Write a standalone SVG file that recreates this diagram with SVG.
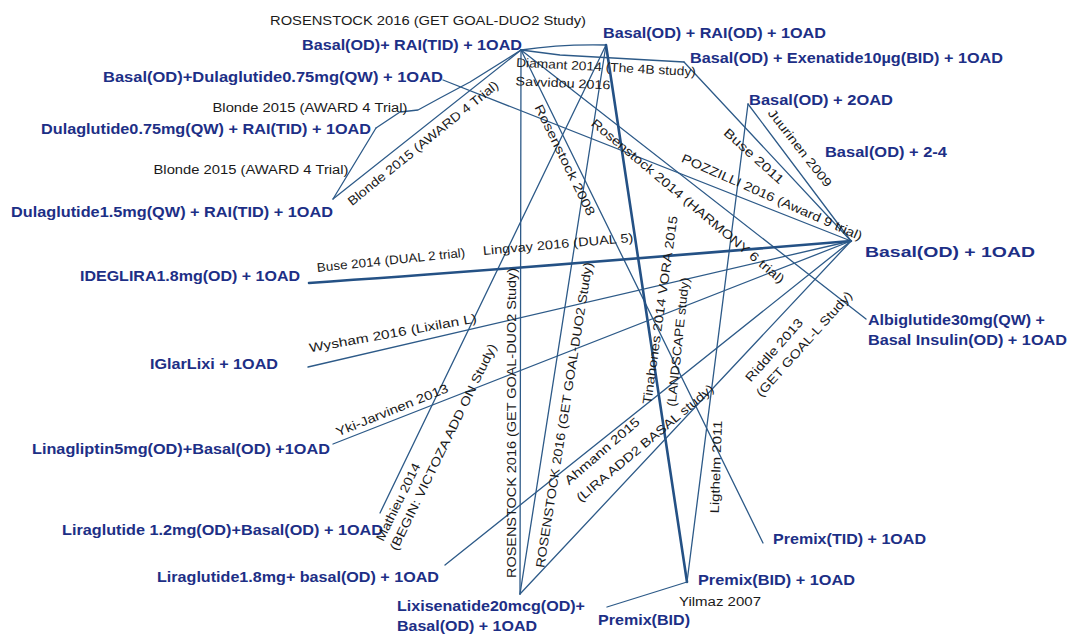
<svg xmlns="http://www.w3.org/2000/svg" width="1067" height="634" viewBox="0 0 1067 634">
<style>
.n{font-family:"Liberation Sans",Arial,sans-serif;font-weight:bold;font-size:15px;fill:#1d2f86}
.s{font-family:"Liberation Sans",Arial,sans-serif;font-size:12.5px;fill:#1a1a1a}
.e{stroke:#2d5a88;stroke-width:1.3;fill:none;stroke-linecap:round;stroke-linejoin:round}
.t{stroke-width:2.6;stroke:#245185}
</style>
<rect width="1067" height="634" fill="#ffffff"/>
<g id="connectors">
<path class="e" d="M521,50 Q560,44 606,45"/>
<path class="e" d="M521,50 L560,55 L684,62"/>
<path class="e" d="M521,50 L520,594"/>
<path class="e" d="M376,128 L400,112 L418,110 L440,98 L470,82 L521,50"/>
<path class="e" d="M333,199 L376,128"/>
<path class="e" d="M333,199 L521,50"/>
<path class="e" d="M521,50 L763,543"/>
<path class="e" d="M521,50 L866,319"/>
<path class="e" d="M606,45 L520,594"/>
<path class="e" d="M606,45 L380,513"/>
<path class="e t" d="M606,45 L687,582"/>
<path class="e" d="M443,80 L851,241"/>
<path class="e" d="M684,62 L851,241"/>
<path class="e" d="M748,104 L851,241"/>
<path class="e" d="M748,104 L687,582"/>
<path class="e t" d="M309,283 Q500,270 851,241"/>
<path class="e" d="M308,367 L851,241"/>
<path class="e" d="M333,444 L851,241"/>
<path class="e" d="M445,565 L851,241"/>
<path class="e" d="M520,594 L851,241"/>
<path class="e" d="M607,607 L687,582"/>
</g>
<g id="node-basal-rai-tid"><text class="n" x="302" y="50" textLength="220" lengthAdjust="spacingAndGlyphs">Basal(OD)+ RAI(TID)  + 1OAD</text></g>
<g id="node-basal-rai-od"><text class="n" x="603" y="38" textLength="223" lengthAdjust="spacingAndGlyphs">Basal(OD) + RAI(OD) + 1OAD</text></g>
<g id="node-basal-exenatide"><text class="n" x="690" y="63" textLength="313" lengthAdjust="spacingAndGlyphs">Basal(OD) + Exenatide10µg(BID) + 1OAD</text></g>
<g id="node-basal-dula075"><text class="n" x="103" y="82" textLength="340" lengthAdjust="spacingAndGlyphs">Basal(OD)+Dulaglutide0.75mg(QW) + 1OAD</text></g>
<g id="node-basal-2oad"><text class="n" x="749" y="105" textLength="144" lengthAdjust="spacingAndGlyphs">Basal(OD) + 2OAD</text></g>
<g id="node-dula075-rai"><text class="n" x="41" y="134" textLength="330" lengthAdjust="spacingAndGlyphs">Dulaglutide0.75mg(QW) + RAI(TID)  + 1OAD</text></g>
<g id="node-basal-2-4"><text class="n" x="825" y="157" textLength="122" lengthAdjust="spacingAndGlyphs">Basal(OD) + 2-4</text></g>
<g id="node-dula15-rai"><text class="n" x="11" y="217" textLength="322" lengthAdjust="spacingAndGlyphs">Dulaglutide1.5mg(QW) + RAI(TID)  + 1OAD</text></g>
<g id="node-basal-1oad"><text class="n" x="865" y="257" textLength="170" lengthAdjust="spacingAndGlyphs">Basal(OD) + 1OAD</text></g>
<g id="node-ideglira"><text class="n" x="80" y="281" textLength="220" lengthAdjust="spacingAndGlyphs">IDEGLIRA1.8mg(OD) + 1OAD</text></g>
<g id="node-albiglutide"><text class="n" x="868" y="325" textLength="177" lengthAdjust="spacingAndGlyphs">Albiglutide30mg(QW) +</text><text class="n" x="868" y="345" textLength="199" lengthAdjust="spacingAndGlyphs">Basal Insulin(OD)  + 1OAD</text></g>
<g id="node-iglarlixi"><text class="n" x="150" y="369" textLength="128" lengthAdjust="spacingAndGlyphs">IGlarLixi  + 1OAD</text></g>
<g id="node-linagliptin"><text class="n" x="32" y="454" textLength="298" lengthAdjust="spacingAndGlyphs">Linagliptin5mg(OD)+Basal(OD) +1OAD</text></g>
<g id="node-premix-tid"><text class="n" x="773" y="544" textLength="153" lengthAdjust="spacingAndGlyphs">Premix(TID) + 1OAD</text></g>
<g id="node-lira12"><text class="n" x="62" y="535" textLength="321" lengthAdjust="spacingAndGlyphs">Liraglutide 1.2mg(OD)+Basal(OD) + 1OAD</text></g>
<g id="node-lira18"><text class="n" x="157" y="582" textLength="282" lengthAdjust="spacingAndGlyphs">Liraglutide1.8mg+ basal(OD) + 1OAD</text></g>
<g id="node-premix-bid-1oad"><text class="n" x="698" y="585" textLength="157" lengthAdjust="spacingAndGlyphs">Premix(BID) + 1OAD</text></g>
<g id="node-lixisenatide"><text class="n" x="397" y="611" textLength="188" lengthAdjust="spacingAndGlyphs">Lixisenatide20mcg(OD)+</text><text class="n" x="397" y="631" textLength="140" lengthAdjust="spacingAndGlyphs">Basal(OD) + 1OAD</text></g>
<g id="node-premix-bid"><text class="n" x="598" y="625" textLength="92" lengthAdjust="spacingAndGlyphs">Premix(BID)</text></g>
<g id="study-labels">
<text class="s" text-anchor="middle" dy="0.35em" transform="translate(428,21)" textLength="316" lengthAdjust="spacingAndGlyphs">ROSENSTOCK 2016 (GET GOAL-DUO2 Study)</text>
<text class="s" text-anchor="middle" dy="0.35em" transform="translate(606,67) rotate(3)" textLength="180" lengthAdjust="spacingAndGlyphs">Diamant 2014 (The 4B study)</text>
<text class="s" text-anchor="middle" dy="0.35em" transform="translate(563,83) rotate(2.5)" textLength="95" lengthAdjust="spacingAndGlyphs">Savvidou 2016</text>
<text class="s" text-anchor="middle" dy="0.35em" transform="translate(310,108)" textLength="195" lengthAdjust="spacingAndGlyphs">Blonde 2015 (AWARD 4 Trial)</text>
<text class="s" text-anchor="middle" dy="0.35em" transform="translate(251,170)" textLength="195" lengthAdjust="spacingAndGlyphs">Blonde 2015 (AWARD 4 Trial)</text>
<text class="s" text-anchor="middle" dy="0.35em" transform="translate(423,143) rotate(-39)" textLength="190" lengthAdjust="spacingAndGlyphs">Blonde 2015 (AWARD 4 Trial)</text>
<text class="s" text-anchor="middle" dy="0.35em" transform="translate(565,160) rotate(64)" textLength="122" lengthAdjust="spacingAndGlyphs">Rosenstock 2008</text>
<text class="s" text-anchor="middle" dy="0.35em" transform="translate(688,201) rotate(40)" textLength="248" lengthAdjust="spacingAndGlyphs">Rosenstock 2014 (HARMONY 6 trial)</text>
<text class="s" text-anchor="middle" dy="0.35em" transform="translate(772,197) rotate(23.8)" textLength="196" lengthAdjust="spacingAndGlyphs">POZZILLI 2016 (Award 9 trial)</text>
<text class="s" text-anchor="middle" dy="0.35em" transform="translate(754,156) rotate(42)" textLength="76" lengthAdjust="spacingAndGlyphs">Buse 2011</text>
<text class="s" text-anchor="middle" dy="0.35em" transform="translate(800,148) rotate(52)" textLength="95" lengthAdjust="spacingAndGlyphs">Juurinen 2009</text>
<text class="s" text-anchor="middle" dy="0.35em" transform="translate(391,260) rotate(-5.8)" textLength="149" lengthAdjust="spacingAndGlyphs">Buse 2014 (DUAL 2 trial)</text>
<text class="s" text-anchor="middle" dy="0.35em" transform="translate(558,244) rotate(-5)" textLength="151" lengthAdjust="spacingAndGlyphs">Lingvay 2016 (DUAL 5)</text>
<text class="s" text-anchor="middle" dy="0.35em" transform="translate(393,333) rotate(-10.2)" textLength="170" lengthAdjust="spacingAndGlyphs">Wysham 2016  (Lixilan L)</text>
<text class="s" text-anchor="middle" dy="0.35em" transform="translate(392,410) rotate(-22)" textLength="120" lengthAdjust="spacingAndGlyphs">Yki-Jarvinen 2013</text>
<text class="s" text-anchor="middle" dy="0.35em" transform="translate(398,502) rotate(-64)" textLength="85" lengthAdjust="spacingAndGlyphs">Mathieu 2014</text>
<text class="s" text-anchor="middle" dy="0.35em" transform="translate(443,447) rotate(-64)" textLength="228" lengthAdjust="spacingAndGlyphs">(BEGIN: VICTOZA ADD ON Study)</text>
<text class="s" text-anchor="middle" dy="0.35em" transform="translate(512,423) rotate(-90)" textLength="310" lengthAdjust="spacingAndGlyphs">ROSENSTOCK 2016 (GET GOAL-DUO2 Study)</text>
<text class="s" text-anchor="middle" dy="0.35em" transform="translate(564,415) rotate(-81)" textLength="309" lengthAdjust="spacingAndGlyphs">ROSENSTOCK 2016 (GET GOAL-DUO2 Study)</text>
<text class="s" text-anchor="middle" dy="0.35em" transform="translate(602,451) rotate(-41)" textLength="95" lengthAdjust="spacingAndGlyphs">Ahmann 2015</text>
<text class="s" text-anchor="middle" dy="0.35em" transform="translate(645,443) rotate(-40)" textLength="175" lengthAdjust="spacingAndGlyphs">(LIRA ADD2 BASAL study)</text>
<text class="s" text-anchor="middle" dy="0.35em" transform="translate(774,350) rotate(-48.5)" textLength="80" lengthAdjust="spacingAndGlyphs">Riddle 2013</text>
<text class="s" text-anchor="middle" dy="0.35em" transform="translate(804,344) rotate(-48)" textLength="137" lengthAdjust="spacingAndGlyphs">(GET GOAL-L Study)</text>
<text class="s" text-anchor="middle" dy="0.35em" transform="translate(660,310) rotate(-82)" textLength="190" lengthAdjust="spacingAndGlyphs">Tinahones 2014 VORA 2015</text>
<text class="s" text-anchor="middle" dy="0.35em" transform="translate(678,342) rotate(-84)" textLength="130" lengthAdjust="spacingAndGlyphs">(LANDSCAPE study)</text>
<text class="s" text-anchor="middle" dy="0.35em" transform="translate(716,467) rotate(-88)" textLength="93" lengthAdjust="spacingAndGlyphs">Ligthelm 2011</text>
<text class="s" text-anchor="middle" dy="0.35em" transform="translate(720,602)" textLength="82" lengthAdjust="spacingAndGlyphs">Yilmaz 2007</text>
</g>
</svg>
